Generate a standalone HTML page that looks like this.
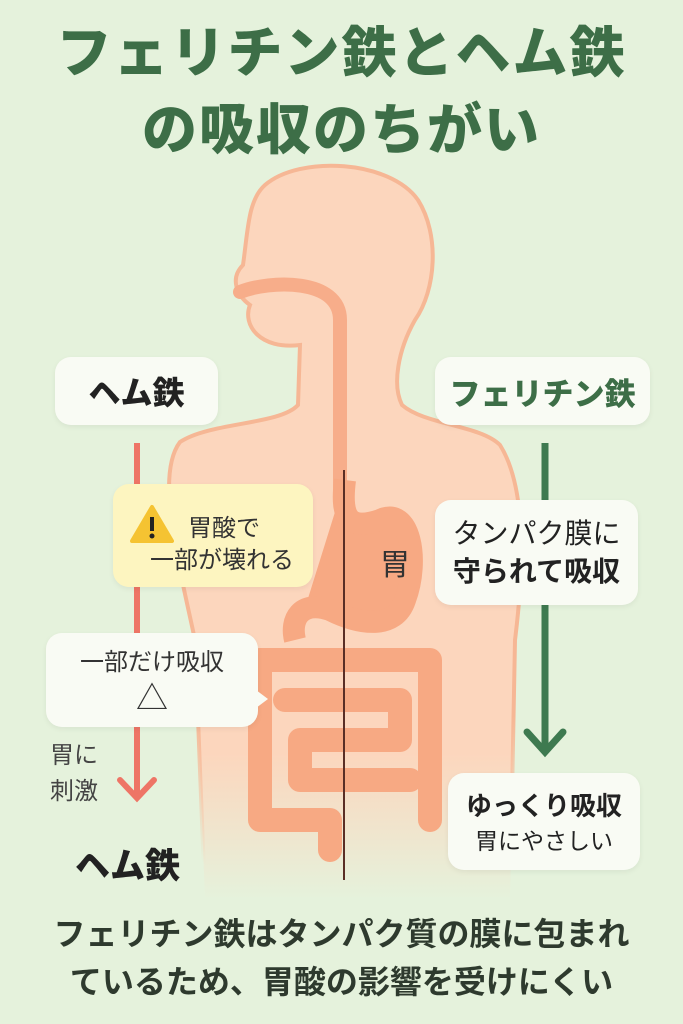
<!DOCTYPE html>
<html><head><meta charset="utf-8"><style>
body{margin:0;width:683px;height:1024px;overflow:hidden;background:#e5f2dc;font-family:"Liberation Sans","Noto Sans CJK JP",sans-serif;position:relative}
.a{position:absolute}
.t{position:absolute;left:0;width:683px;text-align:center;color:#3d6e47;font-weight:900;font-size:55px;letter-spacing:2px}
.box{position:absolute;background:#f9fbf4;border-radius:16px;box-shadow:0 2px 6px rgba(0,0,0,.06)}
.c{display:flex;flex-direction:column;align-items:center;justify-content:center}
</style></head><body>
<div class="t" style="top:8px">フェリチン鉄とヘム鉄</div>
<div class="t" style="top:85px">の吸収のちがい</div>
<svg class="a" style="left:0;top:0" width="683" height="1024">
<defs><linearGradient id="f" x1="0" y1="0" x2="0" y2="1"><stop offset="0.8" stop-color="#fcd6bd"/><stop offset="1" stop-color="#fcd6bd" stop-opacity="0"/></linearGradient>
<linearGradient id="s" x1="0" y1="0" x2="0" y2="1"><stop offset="0.75" stop-color="#f6b795"/><stop offset="0.95" stop-color="#f6b795" stop-opacity="0"/></linearGradient></defs>
<path d="M300 345 C260 350 242 325 250 305 C236 295 230 278 243 265 C248 230 248 200 265 185 C300 155 390 160 418 200 C440 235 436 290 415 320 C398 350 392 385 402 405 C425 425 480 425 500 445 C525 485 525 560 515 640 L510 900 L205 900 L195 640 C178 560 155 475 180 442 C210 422 280 425 298 405 Z" fill="url(#f)" stroke="url(#s)" stroke-width="4"/>
<path d="M240 292 C270 280 340 278 340 320 L340 490" fill="none" stroke="#f7ad8a" stroke-width="14" stroke-linecap="round"/>
<path d="M345 480 C340 520 350 530 380 520 C410 505 420 560 405 600 C395 630 360 625 330 610 C300 600 290 620 295 640" fill="#f7a983" stroke="#f7a983" stroke-width="22" stroke-linejoin="round"/>
<path d="M260 660 L430 660 L430 820 M260 660 L260 820 L330 820 L330 850 M285 700 L400 700 L400 740 L300 740 L300 780 L410 780" fill="none" stroke="#f7a983" stroke-width="24" stroke-linecap="round" stroke-linejoin="round"/>
<line x1="344" y1="470" x2="344" y2="880" stroke="#5a2e25" stroke-width="2"/>
<line x1="137" y1="443" x2="137" y2="798" stroke="#ee7566" stroke-width="6"/>
<path d="M120 780 L137 798 L154 780" fill="none" stroke="#ee7566" stroke-width="6" stroke-linecap="round"/>
<line x1="545" y1="443" x2="545" y2="750" stroke="#3e7a50" stroke-width="7"/>
<path d="M527 732 L545 752 L563 732" fill="none" stroke="#3e7a50" stroke-width="7" stroke-linecap="round"/>
</svg>
<div class="box c" style="left:55px;top:357px;width:163px;height:68px;font-size:32px;font-weight:900;color:#222">ヘム鉄</div>
<div class="box c" style="left:435px;top:357px;width:215px;height:68px;font-size:31px;font-weight:900;color:#3d6e47">フェリチン鉄</div>
<div class="box" style="left:113px;top:484px;width:200px;height:103px;background:#fdf5c0"></div>
<svg class="a" style="left:130px;top:504px" width="44" height="40"><path d="M22 3 L42 37 L2 37 Z" fill="#f5c332" stroke="#f5c332" stroke-width="4" stroke-linejoin="round"/><rect x="20" y="13" width="4" height="14" fill="#222"/><circle cx="22" cy="32" r="2.5" fill="#222"/></svg>
<div class="a" style="left:188px;top:508px;font-size:24px;color:#333">胃酸で</div>
<div class="a" style="left:150px;top:540px;font-size:24px;color:#333">一部が壊れる</div>
<div class="box c" style="left:46px;top:633px;width:212px;height:94px;font-size:24px;color:#333"><div>一部だけ吸収</div><div style="font-size:32px;line-height:42px">△</div></div>
<div class="a" style="left:256px;top:690px;width:0;height:0;border-top:9px solid transparent;border-bottom:9px solid transparent;border-left:12px solid #f9fbf4"></div>
<div class="a" style="left:50px;top:738px;font-size:24px;line-height:36px;color:#444">胃に<br>刺激</div>
<div class="a" style="left:75px;top:838px;font-size:35px;font-weight:900;color:#222">ヘム鉄</div>
<div class="a" style="left:380px;top:540px;font-size:30px;color:#333">胃</div>
<div class="box c" style="left:435px;top:500px;width:203px;height:105px;font-size:28px;color:#222;line-height:38px"><div>タンパク膜に</div><div style="font-weight:700">守られて吸収</div></div>
<div class="box c" style="left:448px;top:773px;width:192px;height:97px;color:#222"><div style="font-size:26px;font-weight:700;line-height:38px">ゆっくり吸収</div><div style="font-size:23px;line-height:32px">胃にやさしい</div></div>
<div class="a" style="left:0;top:910px;width:683px;text-align:center;font-size:32px;font-weight:700;color:#2e3a2e;line-height:48px">フェリチン鉄はタンパク質の膜に包まれ<br>ているため、胃酸の影響を受けにくい</div>
</body></html>
